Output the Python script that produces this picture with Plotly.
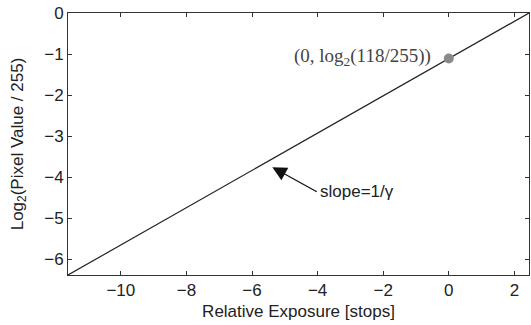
import plotly.graph_objects as go

# Data
line_x = [-11.61, 2.445]        # relative exposure [stops]
line_y = [-6.39, 0.0]           # log2(pixel value / 255)
point_x = [0.0]
point_y = [-1.1116]             # log2(118/255)
x_ticks = [-10, -8, -6, -4, -2, 0, 2]
y_ticks = [0, -1, -2, -3, -4, -5, -6]

SANS = "Liberation Sans, Arial, sans-serif"
SERIF = "Liberation Serif, DejaVu Serif, serif"

fig = go.Figure()
fig.add_trace(go.Scatter(x=line_x, y=line_y, mode="lines",
                         line=dict(color="#222222", width=1.2), showlegend=False))
fig.add_trace(go.Scatter(x=point_x, y=point_y, mode="markers",
                         marker=dict(color="#8a8a8a", size=10), showlegend=False))

fig.add_annotation(x=point_x[0], y=point_y[0], xref="x", yref="y",
                   text="(0, log<sub>2</sub>(118/255))", showarrow=False,
                   xanchor="right", yanchor="middle", xshift=-16, yshift=2,
                   font=dict(family=SERIF, size=19, color="#444444"))

fig.add_annotation(x=-5.38, y=-3.76, ax=-3.98, ay=-4.38, xref="x", yref="y",
                   axref="x", ayref="y", text="", showarrow=True,
                   arrowhead=2, arrowsize=2.2, arrowwidth=1.3, arrowcolor="#111111")
fig.add_annotation(x=-3.98, y=-4.36, xref="x", yref="y", text="slope=1/γ",
                   showarrow=False, xanchor="left", yanchor="middle",
                   font=dict(family=SANS, size=17, color="#222222"))

axis_common = dict(showgrid=False, zeroline=False, showline=True, linecolor="#333333",
                   linewidth=1, mirror="ticks", ticks="inside", ticklen=4,
                   tickcolor="#333333", automargin=False,
                   tickfont=dict(family=SANS, size=17, color="#222222"))

fig.update_xaxes(range=[line_x[0], line_x[1]], tickvals=x_ticks,
                 title=dict(text="Relative Exposure [stops]", standoff=5,
                            font=dict(family=SANS, size=17, color="#222222")),
                 **axis_common)
fig.update_yaxes(range=[line_y[0], line_y[1]], tickvals=y_ticks,
                 title=dict(text="Log<sub>2</sub>(Pixel Value / 255)", standoff=16,
                            font=dict(family=SANS, size=17, color="#222222")),
                 **axis_common)

fig.update_layout(width=531, height=325, margin=dict(l=68, r=2, t=13, b=50),
                  plot_bgcolor="white", paper_bgcolor="white")

fig.write_html("out.html", config={"displayModeBar": False},
               post_script="document.body.style.margin='0';document.body.style.overflow='hidden';")
